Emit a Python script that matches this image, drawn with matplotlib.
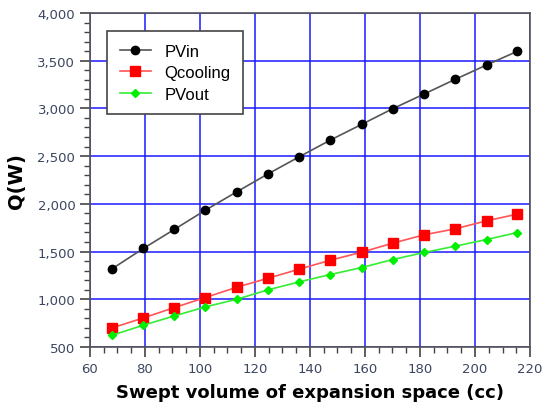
import matplotlib.pyplot as plt
from matplotlib.ticker import MultipleLocator, FuncFormatter

# swept volume (cc)
volume = [68, 79.4, 90.7, 102, 113.4, 124.7, 136.1, 147.4, 158.8, 170.1, 181.5, 192.8, 204.2, 215.4]
pv_in = [1318, 1532, 1732, 1934, 2126, 2313, 2493, 2668, 2833, 2997, 3151, 3305, 3455, 3599]
q_cooling = [699, 804, 913, 1018, 1126, 1220, 1315, 1409, 1493, 1588, 1675, 1738, 1822, 1892]
pv_out = [622, 728, 825, 920, 1000, 1098, 1182, 1259, 1332, 1416, 1490, 1556, 1626, 1699]

plt.rcParams['font.family'] = ['DejaVu Sans']

fig = plt.figure(figsize=(5.45, 4.06), dpi=100)
ax = fig.add_axes([0.165, 0.143, 0.8075, 0.8225])

ax.plot(volume, pv_in, color='#555555', lw=1.2, marker='o', ms=6,
        mfc='black', mec='black', label='PVin', zorder=3)
ax.plot(volume, q_cooling, color='#ff5555', lw=1.2, marker='s', ms=7,
        mfc='#ff0000', mec='#ff0000', label='Qcooling', zorder=3)
ax.plot(volume, pv_out, color='#33ee33', lw=1.2, marker='D', ms=4.5,
        mfc='#00ee00', mec='#00ee00', label='PVout', zorder=3)

ax.set_xlim(60, 220)
ax.set_ylim(500, 4000)
ax.xaxis.set_major_locator(MultipleLocator(20))
ax.xaxis.set_minor_locator(MultipleLocator(5))
ax.yaxis.set_major_locator(MultipleLocator(500))
ax.yaxis.set_minor_locator(MultipleLocator(100))
ax.yaxis.set_major_formatter(FuncFormatter(lambda v, p: f'{int(v):,}'))

ax.grid(True, which='major', color='#1a1aff', lw=1.1)
ax.set_axisbelow(True)

ax.tick_params(which='both', direction='out', colors='#444444',
               labelcolor='#3c4660', labelsize=9.5, top=False, right=False)
ax.tick_params(which='major', length=7, width=1.2)
ax.tick_params(which='minor', length=4, width=1)
for s in ax.spines.values():
    s.set_color('#555555')
    s.set_linewidth(1.2)

ax.set_xlabel('Swept volume of expansion space (cc)', fontsize=13,
              fontweight='bold', labelpad=6)
ax.set_ylabel('Q(W)', fontsize=14, fontweight='bold', labelpad=8)

leg = ax.legend(loc='upper left', bbox_to_anchor=(0.039, 0.946),
                fancybox=False, framealpha=1, edgecolor='#444444',
                borderpad=0.75, labelspacing=0.4, handlelength=1.9,
                borderaxespad=0, prop={'family': 'Liberation Sans', 'size': 12})
leg.get_frame().set_linewidth(1.2)

fig.savefig('out.png', dpi=100)
